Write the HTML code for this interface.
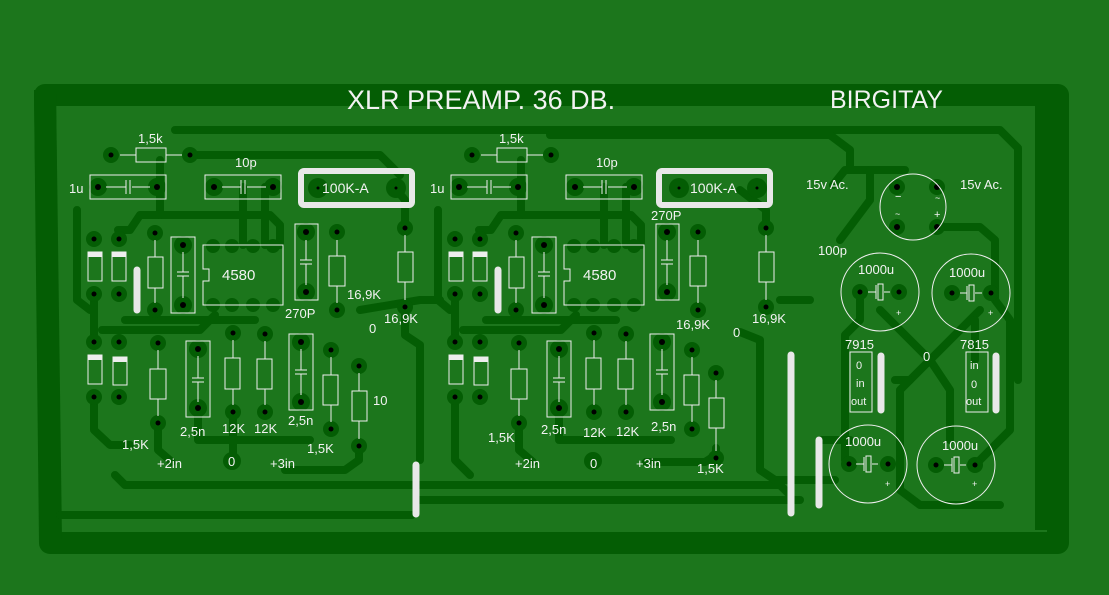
<!DOCTYPE html>
<html><head><meta charset="utf-8"><style>
html,body{margin:0;padding:0;background:#1c761c;}
svg{display:block}
text{font-family:"Liberation Sans","DejaVu Sans",sans-serif;fill:#f2f2f2}
</style></head><body>
<svg width="1109" height="595" viewBox="0 0 1109 595" xmlns="http://www.w3.org/2000/svg">
<rect width="1109" height="595" fill="#1c761c"/>
<!-- outer border traces -->
<path d="M45 95 H1058 V543 H50 Z" fill="none" stroke="#045d04" stroke-width="22" stroke-linejoin="round"/>
<path d="M34 90 L56 90 L62 540 L40 540 Z" fill="#045d04"/>
<rect x="1035" y="100" width="14" height="430" fill="#045d04"/>
<g fill="none" stroke="#045d04" stroke-width="8" stroke-linejoin="round" stroke-linecap="round">
<path d="M175 130 H1000 L1018 148 V380"/>
<path d="M190 155 H380 L400 175"/>
<path d="M77 210 V300 L90 310"/>
<path d="M118 230 H130 L140 215 H270 L280 225 V245"/>
<path d="M160 160 V215"/>
<path d="M243 187 V245"/>
<path d="M265 187 V245"/>
<path d="M405 228 V200 L395 188"/>
<path d="M94 300 V340"/>
<path d="M94 397 V430 L110 445 H130"/>
<path d="M102 330 H200 L215 315"/>
<path d="M125 320 H255"/>
<path d="M158 423 V450 L172 462"/>
<path d="M198 408 V440 H310"/>
<path d="M233 412 V460"/>
<path d="M359 446 V460 L345 470 H285"/>
<path d="M115 475 L125 485 H780 L790 495"/>
<path d="M60 515 H412"/>
<path d="M360 310 L420 300 H440"/>
<path d="M405 307 V335 L420 345 V460"/>
<path d="M438 210 V300 L450 310"/>
<path d="M479 230 H491 L501 215 H631 L641 225 V245"/>
<path d="M521 160 V215"/>
<path d="M604 187 V245"/>
<path d="M626 187 V245"/>
<path d="M455 300 V340"/>
<path d="M455 397 V460 L470 475"/>
<path d="M463 330 H561 L576 315"/>
<path d="M486 320 H616"/>
<path d="M519 423 V450 L533 462"/>
<path d="M559 408 V440 H671"/>
<path d="M716 448 V455 L705 462 H646"/>
<path d="M740 332 L760 340 V470 L775 480 H835"/>
<path d="M550 135 H830 L850 150 V170"/>
<path d="M766 228 V210 L740 190"/>
<path d="M420 500 H800"/>
<path d="M780 300 H810"/>
<path d="M833 185 L845 170 H890"/>
<path d="M840 240 L870 200 V170 H905"/>
<path d="M937 227 H980 L995 240 V300 L1010 320 V430 L980 460"/>
<path d="M860 295 V320 L845 335 V460"/>
<path d="M880 310 L930 360 L980 310"/>
<path d="M930 360 L900 390 V490 L920 505 H1000"/>
<path d="M930 360 L950 390 V440"/>
<path d="M820 440 H850"/>
<path d="M895 380 H910"/>
<path d="M975 320 V360"/>
</g>
<g fill="#045d04">
<circle cx="111" cy="155" r="8"/><circle cx="190" cy="155" r="8"/>
<circle cx="98" cy="187" r="9"/><circle cx="157" cy="187" r="9"/>
<circle cx="214" cy="187" r="9"/><circle cx="273" cy="187" r="9"/>
<circle cx="318" cy="188" r="10"/><circle cx="396" cy="188" r="10"/>
<circle cx="472" cy="155" r="8"/><circle cx="551" cy="155" r="8"/>
<circle cx="459" cy="187" r="9"/><circle cx="518" cy="187" r="9"/>
<circle cx="575" cy="187" r="9"/><circle cx="634" cy="187" r="9"/>
<circle cx="679" cy="188" r="10"/><circle cx="757" cy="188" r="10"/>
</g>
<g fill="#045d04" id="padsL">
<circle cx="94" cy="239" r="8"/><circle cx="119" cy="239" r="8"/><circle cx="94" cy="294" r="8"/><circle cx="119" cy="294" r="8"/>
<circle cx="155" cy="233" r="8"/><circle cx="155" cy="310" r="8"/>
<circle cx="183" cy="245" r="9"/><circle cx="183" cy="305" r="9"/>
<circle cx="213" cy="246" r="7"/><circle cx="232" cy="246" r="7"/><circle cx="253" cy="246" r="7"/><circle cx="273" cy="246" r="7"/>
<circle cx="213" cy="305" r="7"/><circle cx="232" cy="305" r="7"/><circle cx="253" cy="305" r="7"/><circle cx="273" cy="305" r="7"/>
<circle cx="306" cy="232" r="9"/><circle cx="306" cy="292" r="9"/>
<circle cx="337" cy="232" r="8"/><circle cx="337" cy="310" r="8"/>
<circle cx="405" cy="228" r="8"/><circle cx="405" cy="307" r="8"/>
<circle cx="94" cy="342" r="8"/><circle cx="119" cy="342" r="8"/><circle cx="94" cy="397" r="8"/><circle cx="119" cy="397" r="8"/>
<circle cx="158" cy="343" r="8"/><circle cx="158" cy="423" r="8"/>
<circle cx="198" cy="349" r="9"/><circle cx="198" cy="408" r="9"/>
<circle cx="233" cy="333" r="8"/><circle cx="233" cy="412" r="8"/>
<circle cx="265" cy="334" r="8"/><circle cx="265" cy="412" r="8"/>
<circle cx="301" cy="342" r="9"/><circle cx="301" cy="402" r="9"/>
<circle cx="331" cy="350" r="8"/><circle cx="331" cy="429" r="8"/>
<circle cx="232" cy="461" r="9"/>
</g>
<use href="#padsL" transform="translate(361,0)"/>
<g fill="#045d04">
<circle cx="359" cy="366" r="8"/><circle cx="359" cy="446" r="8"/>
<circle cx="716" cy="373" r="8"/><circle cx="716" cy="458" r="8"/>
<circle cx="897" cy="187" r="8"/><circle cx="937" cy="187" r="8"/><circle cx="897" cy="227" r="8"/><circle cx="937" cy="227" r="8"/>
<circle cx="860" cy="292" r="8"/><circle cx="899" cy="292" r="8"/>
<circle cx="952" cy="293" r="8"/><circle cx="991" cy="293" r="8"/>
<circle cx="849" cy="464" r="8"/><circle cx="888" cy="464" r="8"/>
<circle cx="936" cy="465" r="8"/><circle cx="975" cy="465" r="8"/>
</g>
<g fill="#000">
<circle cx="111" cy="155" r="2.5"/><circle cx="190" cy="155" r="2.5"/><circle cx="98" cy="187" r="3"/><circle cx="157" cy="187" r="3"/>
<circle cx="214" cy="187" r="3"/><circle cx="273" cy="187" r="3"/><circle cx="318" cy="188" r="1.5"/><circle cx="396" cy="188" r="1.5"/>
<circle cx="472" cy="155" r="2.5"/><circle cx="551" cy="155" r="2.5"/><circle cx="459" cy="187" r="3"/><circle cx="518" cy="187" r="3"/>
<circle cx="575" cy="187" r="3"/><circle cx="634" cy="187" r="3"/><circle cx="679" cy="188" r="1.5"/><circle cx="757" cy="188" r="1.5"/>
<circle cx="897" cy="187" r="3"/><circle cx="937" cy="187" r="3"/><circle cx="897" cy="227" r="3"/><circle cx="937" cy="227" r="3"/>
<circle cx="860" cy="292" r="2.5"/><circle cx="899" cy="292" r="2.5"/><circle cx="952" cy="293" r="2.5"/><circle cx="991" cy="293" r="2.5"/>
<circle cx="849" cy="464" r="2.5"/><circle cx="888" cy="464" r="2.5"/><circle cx="936" cy="465" r="2.5"/><circle cx="975" cy="465" r="2.5"/>
<circle cx="359" cy="366" r="2.5"/><circle cx="359" cy="446" r="2.5"/><circle cx="716" cy="373" r="2.5"/><circle cx="716" cy="458" r="2.5"/>
</g>
<g fill="#000" id="dotsL">
<circle cx="94" cy="239" r="2.5"/><circle cx="119" cy="239" r="2.5"/><circle cx="94" cy="294" r="2.5"/><circle cx="119" cy="294" r="2.5"/>
<circle cx="155" cy="233" r="2.5"/><circle cx="155" cy="310" r="2.5"/><circle cx="183" cy="245" r="3"/><circle cx="183" cy="305" r="3"/>
<circle cx="306" cy="232" r="3"/><circle cx="306" cy="292" r="3"/><circle cx="337" cy="232" r="2.5"/><circle cx="337" cy="310" r="2.5"/>
<circle cx="405" cy="228" r="2.5"/><circle cx="405" cy="307" r="2.5"/>
<circle cx="94" cy="342" r="2.5"/><circle cx="119" cy="342" r="2.5"/><circle cx="94" cy="397" r="2.5"/><circle cx="119" cy="397" r="2.5"/>
<circle cx="158" cy="343" r="2.5"/><circle cx="158" cy="423" r="2.5"/><circle cx="198" cy="349" r="3"/><circle cx="198" cy="408" r="3"/>
<circle cx="233" cy="333" r="2.5"/><circle cx="233" cy="412" r="2.5"/><circle cx="265" cy="334" r="2.5"/><circle cx="265" cy="412" r="2.5"/>
<circle cx="301" cy="342" r="3"/><circle cx="301" cy="402" r="3"/><circle cx="331" cy="350" r="2.5"/><circle cx="331" cy="429" r="2.5"/>
</g>
<use href="#dotsL" transform="translate(361,0)"/>
<g fill="none" stroke="#eee" stroke-width="1">
<rect x="136" y="148" width="30" height="14"/><path d="M120 155H136M166 155H182"/>
<rect x="90" y="175" width="76" height="24"/><path d="M106 187H126M132 187H150M126 180V194M130 180V194"/>
<rect x="205" y="175" width="76" height="24"/><path d="M222 187H241M247 187H266M241 180V194M245 180V194"/>
<rect x="497" y="148" width="30" height="14"/><path d="M481 155H497M527 155H543"/>
<rect x="451" y="175" width="76" height="24"/><path d="M467 187H487M493 187H511M487 180V194M491 180V194"/>
<rect x="566" y="175" width="76" height="24"/><path d="M583 187H602M608 187H627M602 180V194M606 180V194"/>
</g>
<g id="compL" fill="none" stroke="#eee" stroke-width="1">
<rect x="88" y="252" width="14" height="29"/><rect x="112" y="252" width="14" height="29"/>
<rect x="148" y="257" width="15" height="31"/><path d="M155 240V257M155 288V303"/>
<rect x="171" y="237" width="24" height="76"/><path d="M183 252V272M183 276V298M177 272H189M177 276H189"/>
<path d="M203 245H283V305H203V281H209V269H203Z"/>
<rect x="295" y="224" width="23" height="76"/><path d="M306 240V260M306 264V285M300 260H312M300 264H312"/>
<rect x="329" y="256" width="16" height="30"/><path d="M337 240V256M337 286V303"/>
<rect x="398" y="252" width="15" height="30"/><path d="M405 235V252M405 282V300"/>
<rect x="88" y="355" width="14" height="29"/><rect x="113" y="357" width="14" height="28"/>
<rect x="150" y="369" width="16" height="30"/><path d="M158 350V369M158 399V416"/>
<rect x="186" y="341" width="24" height="76"/><path d="M198 356V378M198 382V402M192 378H204M192 382H204"/>
<rect x="225" y="358" width="15" height="31"/><path d="M233 340V358M233 389V405"/>
<rect x="257" y="359" width="15" height="30"/><path d="M265 341V359M265 389V405"/>
<rect x="289" y="334" width="24" height="76"/><path d="M301 349V370M301 374V395M295 370H307M295 374H307"/>
<rect x="323" y="375" width="15" height="30"/><path d="M331 357V375M331 405V422"/>
</g>
<use href="#compL" transform="translate(361,0)"/>
<g fill="none" stroke="#eee" stroke-width="1">
<rect x="352" y="391" width="15" height="30"/><path d="M359 373V391M359 421V439"/>
<rect x="709" y="398" width="15" height="30"/><path d="M716 380V398M716 428V451"/>
<circle cx="913" cy="207" r="33"/>
<circle cx="880" cy="292" r="39"/><circle cx="971" cy="293" r="39"/>
<circle cx="868" cy="464" r="39"/><circle cx="956" cy="465" r="39"/>
<rect x="850" y="352" width="22" height="60"/><rect x="966" y="352" width="22" height="60"/>
</g>
<g fill="none" stroke="#eee" stroke-width="1">
<path d="M868 292H876M884 292H890M876 285V299"/><rect x="878" y="284" width="5" height="16"/>
<path d="M960 293H967M975 293H982M967 286V300"/><rect x="969" y="285" width="5" height="16"/>
<path d="M856 464H864M872 464H878M864 457V471"/><rect x="866" y="456" width="5" height="16"/>
<path d="M944 465H952M960 465H966M952 458V472"/><rect x="954" y="457" width="5" height="16"/>
</g>
<g fill="#eee"><rect x="88" y="252" width="14" height="5"/><rect x="112" y="252" width="14" height="5"/><rect x="88" y="355" width="14" height="5"/><rect x="113" y="357" width="14" height="5"/>
<rect x="449" y="252" width="14" height="5"/><rect x="473" y="252" width="14" height="5"/><rect x="449" y="355" width="14" height="5"/><rect x="474" y="357" width="14" height="5"/></g>
<rect x="301" y="171" width="111" height="34" rx="3" fill="none" stroke="#e8e8e8" stroke-width="6"/>
<rect x="659" y="171" width="111" height="34" rx="3" fill="none" stroke="#e8e8e8" stroke-width="6"/>
<g stroke="#e8e8e8" stroke-linecap="round" stroke-width="7">
<path d="M137 270V310"/><path d="M498 270V310"/>
<path d="M416 465V514"/><path d="M791 355V513"/><path d="M819 440V505"/>
<path d="M881 356V410"/><path d="M996 356V410"/>
</g>
<text x="347" y="109" font-size="27">XLR PREAMP. 36 DB.</text>
<text x="830" y="108" font-size="25">BIRGITAY</text>
<g font-size="13">
<text x="138" y="143">1,5k</text><text x="69" y="193">1u</text><text x="235" y="167">10p</text>
<text x="499" y="143">1,5k</text><text x="430" y="193">1u</text><text x="596" y="167">10p</text>
<text x="322" y="193" font-size="14">100K-A</text><text x="690" y="193" font-size="14">100K-A</text>
<text x="222" y="280" font-size="15">4580</text><text x="583" y="280" font-size="15">4580</text>
<text x="285" y="318">270P</text><text x="347" y="299">16,9K</text><text x="384" y="323">16,9K</text><text x="369" y="333">0</text>
<text x="651" y="220">270P</text><text x="676" y="329">16,9K</text><text x="752" y="323">16,9K</text><text x="733" y="337">0</text>
<text x="122" y="449">1,5K</text><text x="180" y="436">2,5n</text><text x="222" y="433">12K</text><text x="254" y="433">12K</text>
<text x="288" y="425">2,5n</text><text x="307" y="453">1,5K</text><text x="373" y="405">10</text>
<text x="157" y="468">+2in</text><text x="228" y="466">0</text><text x="270" y="468">+3in</text>
<text x="488" y="442">1,5K</text><text x="541" y="434">2,5n</text><text x="583" y="437">12K</text><text x="616" y="436">12K</text>
<text x="651" y="431">2,5n</text><text x="697" y="473">1,5K</text>
<text x="515" y="468">+2in</text><text x="590" y="468">0</text><text x="636" y="468">+3in</text>
<text x="806" y="189">15v Ac.</text><text x="960" y="189">15v Ac.</text><text x="818" y="255">100p</text>
<text x="858" y="274">1000u</text><text x="949" y="277">1000u</text><text x="845" y="446">1000u</text><text x="942" y="450">1000u</text>
<text x="845" y="349">7915</text><text x="960" y="349">7815</text><text x="923" y="361">0</text>
</g>
<g font-size="11">
<text x="856" y="369">0</text><text x="856" y="387">in</text><text x="851" y="405">out</text>
<text x="970" y="369">in</text><text x="971" y="388">0</text><text x="966" y="405">out</text>
<text x="895" y="200">−</text><text x="935" y="201" font-size="9">~</text><text x="895" y="217" font-size="9">~</text><text x="934" y="218">+</text>
<text x="896" y="316" font-size="9">+</text><text x="988" y="316" font-size="9">+</text><text x="885" y="487" font-size="9">+</text><text x="972" y="487" font-size="9">+</text>
</g>
</svg>
</body></html>
